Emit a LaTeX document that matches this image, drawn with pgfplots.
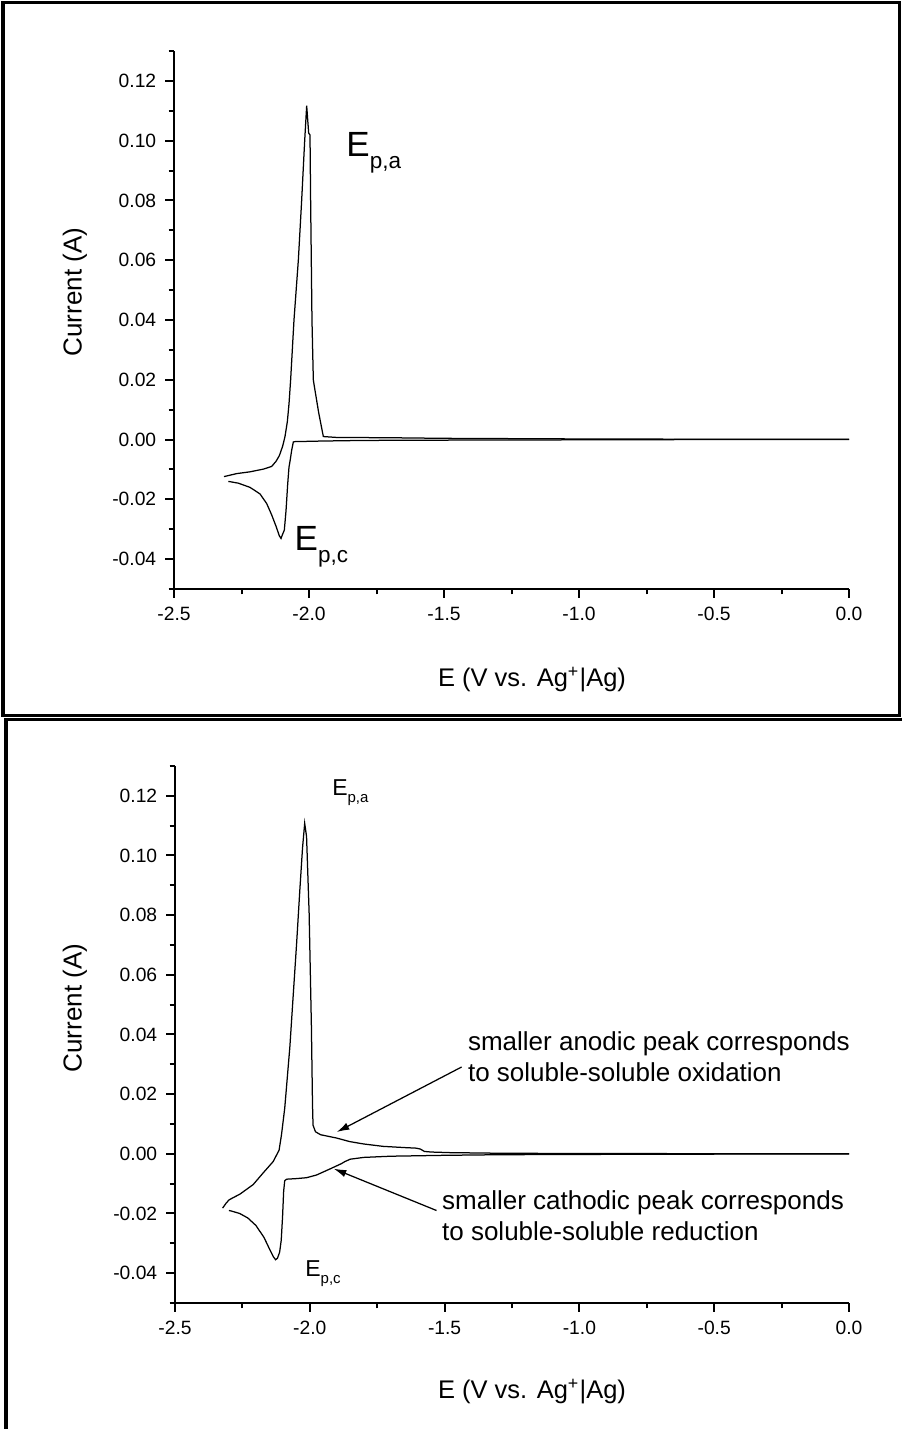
\documentclass[border=0pt]{standalone}
\usepackage{fontspec}
\setmainfont{Liberation Sans}
\usepackage{pgfplots}
\pgfplotsset{compat=1.18}
\usetikzlibrary{arrows.meta}

\pgfplotsset{cvaxis/.style={
  scale only axis,
  axis lines=left,
  axis line style={-, line width=0.8pt},
  xmin=-2.5, xmax=0, ymin=-0.05, ymax=0.13,
  xtick={-2.5,-2,-1.5,-1,-0.5,0},
  minor xtick={-2.25,-1.75,-1.25,-0.75,-0.25},
  ytick={-0.04,-0.02,0,0.02,0.04,0.06,0.08,0.10,0.12},
  minor ytick={-0.05,-0.03,-0.01,0.01,0.03,0.05,0.07,0.09,0.11,0.13},
  scaled x ticks=false, scaled y ticks=false,
  tick align=outside,
  major tick length=3.6pt, minor tick length=2.2pt,
  every tick/.style={black, line width=0.8pt},
  xticklabel style={/pgf/number format/fixed, /pgf/number format/fixed zerofill, /pgf/number format/precision=1, /pgf/number format/assume math mode=true},
  yticklabel style={/pgf/number format/fixed, /pgf/number format/fixed zerofill, /pgf/number format/precision=2, /pgf/number format/assume math mode=true},
  tick label style={font=\fontsize{7.7}{9}\selectfont},
  clip=false,
}}

\begin{document}
\begin{tikzpicture}[x=0.4pt,y=0.4pt]
\path[use as bounding box] (0,0) rectangle (902,1429);

% frames
\draw[line width=1.2pt] (3,1426) rectangle (899,713);
\draw[line width=1.2pt] (6,0) -- (6,709) -- (902,709);

% ---------- top panel ----------
\begin{axis}[cvaxis, at={(69.6pt,336pt)}, anchor=south west, width=270pt, height=215.2pt]
\addplot[black, line width=0.5pt] coordinates {
(-2.3148,-0.0124) (-2.2679,-0.0114) (-2.2185,-0.0108) (-2.1691,-0.0099) (-2.1383,-0.0090)
(-2.1222,-0.0073) (-2.1099,-0.0054) (-2.0975,-0.0022) (-2.0889,0.0010) (-2.0802,0.0060)
(-2.0740,0.0120) (-2.0680,0.0200) (-2.0556,0.0400) (-2.0395,0.0600) (-2.0272,0.0800)
(-2.0160,0.1000) (-2.0086,0.1117) (-2.0012,0.1025) (-1.9963,0.1019) (-1.9940,0.0800)
(-1.9890,0.0400) (-1.9840,0.0200) (-1.9815,0.0185) (-1.9642,0.0090) (-1.9469,0.0010)
(-1.8975,0.0007) (-1.7,0.0006) (-1.5,0.0004) (-1.0,0.0002) (-0.5,0.0001) (0,0.0001)
};
\addplot[black, line width=0.5pt] coordinates {
(0,0.0) (-0.5,0.0) (-1.0,-0.0001) (-1.5,-0.0002) (-1.8,-0.0003) (-1.95,-0.0005)
(-2.052,-0.0007) (-2.058,-0.0008) (-2.064,-0.0035) (-2.0704,-0.0073) (-2.0741,-0.0092)
(-2.0790,-0.0150) (-2.0852,-0.0239) (-2.0914,-0.0303) (-2.0988,-0.0319) (-2.1037,-0.0331)
(-2.1099,-0.0322) (-2.1222,-0.0290) (-2.1383,-0.0252) (-2.1568,-0.0214) (-2.1815,-0.0182)
(-2.2185,-0.0160) (-2.2617,-0.0146) (-2.2988,-0.0140)
};
\node[anchor=base west, inner sep=0pt, font=\fontsize{14}{16}\selectfont] at (axis cs:-1.863,0.0947) {E\raisebox{-5pt}{\fontsize{9}{10}\selectfont p,a}};
\node[anchor=base west, inner sep=0pt, font=\fontsize{14}{16}\selectfont] at (axis cs:-2.055,-0.0370) {E\raisebox{-5pt}{\fontsize{9}{10}\selectfont p,c}};
\end{axis}

% ---------- bottom panel ----------
\begin{axis}[cvaxis, at={(70pt,50.4pt)}, anchor=south west, width=269.6pt, height=214.8pt]
\addplot[black, line width=0.5pt] coordinates {
(-2.3235,-0.0182) (-2.3100,-0.0165) (-2.2990,-0.0154) (-2.2590,-0.0135) (-2.2100,-0.0103)
(-2.1730,-0.0064) (-2.1360,-0.0026) (-2.1140,0.0012) (-2.1050,0.0064) (-2.0930,0.0153)
(-2.0740,0.0358) (-2.0620,0.0525) (-2.0490,0.0704) (-2.0370,0.0884) (-2.0270,0.1025)
(-2.0190,0.1108) (-2.0120,0.1063) (-2.0025,0.0807) (-1.9940,0.0423) (-1.9900,0.0166)
(-1.9880,0.0096) (-1.9790,0.0074) (-1.9600,0.0064) (-1.9010,0.0053) (-1.8520,0.0041)
(-1.8000,0.0033) (-1.7280,0.0025) (-1.6500,0.0021) (-1.6050,0.0019) (-1.5900,0.0016)
(-1.5750,0.0008) (-1.5500,0.0006) (-1.4800,0.0004) (-1.3000,0.0002) (-1.0000,0.0001)
(0,0.0)
};
\addplot[black, line width=0.5pt] coordinates {
(0,-0.0001) (-0.5,-0.0001) (-1.0,-0.0002) (-1.3,-0.0003) (-1.5,-0.0005) (-1.7,-0.0008)
(-1.8,-0.0012) (-1.85,-0.0018) (-1.87,-0.0026) (-1.883,-0.0033) (-1.926,-0.0051)
(-1.975,-0.0071) (-2.012,-0.0080) (-2.049,-0.0083) (-2.086,-0.0085) (-2.093,-0.0090)
(-2.097,-0.0125) (-2.101,-0.0210) (-2.106,-0.0290) (-2.112,-0.0330) (-2.120,-0.0350)
(-2.127,-0.0355) (-2.135,-0.0345) (-2.150,-0.0318) (-2.170,-0.0280) (-2.200,-0.0240)
(-2.230,-0.0215) (-2.260,-0.0200) (-2.290,-0.0192) (-2.300,-0.0190)
};
\node[anchor=base west, inner sep=0pt, font=\fontsize{9.2}{11}\selectfont] at (axis cs:-1.9185,0.1202) {E\raisebox{-3pt}{\fontsize{6}{7}\selectfont p,a}};
\node[anchor=base west, inner sep=0pt, font=\fontsize{9.2}{11}\selectfont] at (axis cs:-2.0185,-0.0410) {E\raisebox{-3pt}{\fontsize{6}{7}\selectfont p,c}};
\node[anchor=west, align=left, inner sep=0pt, font=\fontsize{10.4}{12.4}\selectfont] at (axis cs:-1.4148,0.0324) {smaller anodic peak corresponds\\to soluble-soluble oxidation};
\node[anchor=west, align=left, inner sep=0pt, font=\fontsize{10.4}{12.4}\selectfont] at (axis cs:-1.511,-0.0207) {smaller cathodic peak corresponds\\to soluble-soluble reduction};
\draw[-{Latex[length=5pt,width=3pt]}, line width=0.5pt] (axis cs:-1.437,0.0291) -- (axis cs:-1.90,0.0073);
\draw[-{Latex[length=5pt,width=3pt]}, line width=0.5pt] (axis cs:-1.530,-0.0190) -- (axis cs:-1.911,-0.0050);
\end{axis}

% axis labels
\node[rotate=90, font=\fontsize{10.4}{12}\selectfont] at (75,1137) {Current (A)};
\node[rotate=90, font=\fontsize{10.4}{12}\selectfont] at (75,421) {Current (A)};
\node[font=\fontsize{10.2}{12}\selectfont] at (532,749) {E (V vs. Ag\textsuperscript{+}|Ag)};
\node[font=\fontsize{10.2}{12}\selectfont] at (532,37) {E (V vs. Ag\textsuperscript{+}|Ag)};
\end{tikzpicture}
\end{document}
